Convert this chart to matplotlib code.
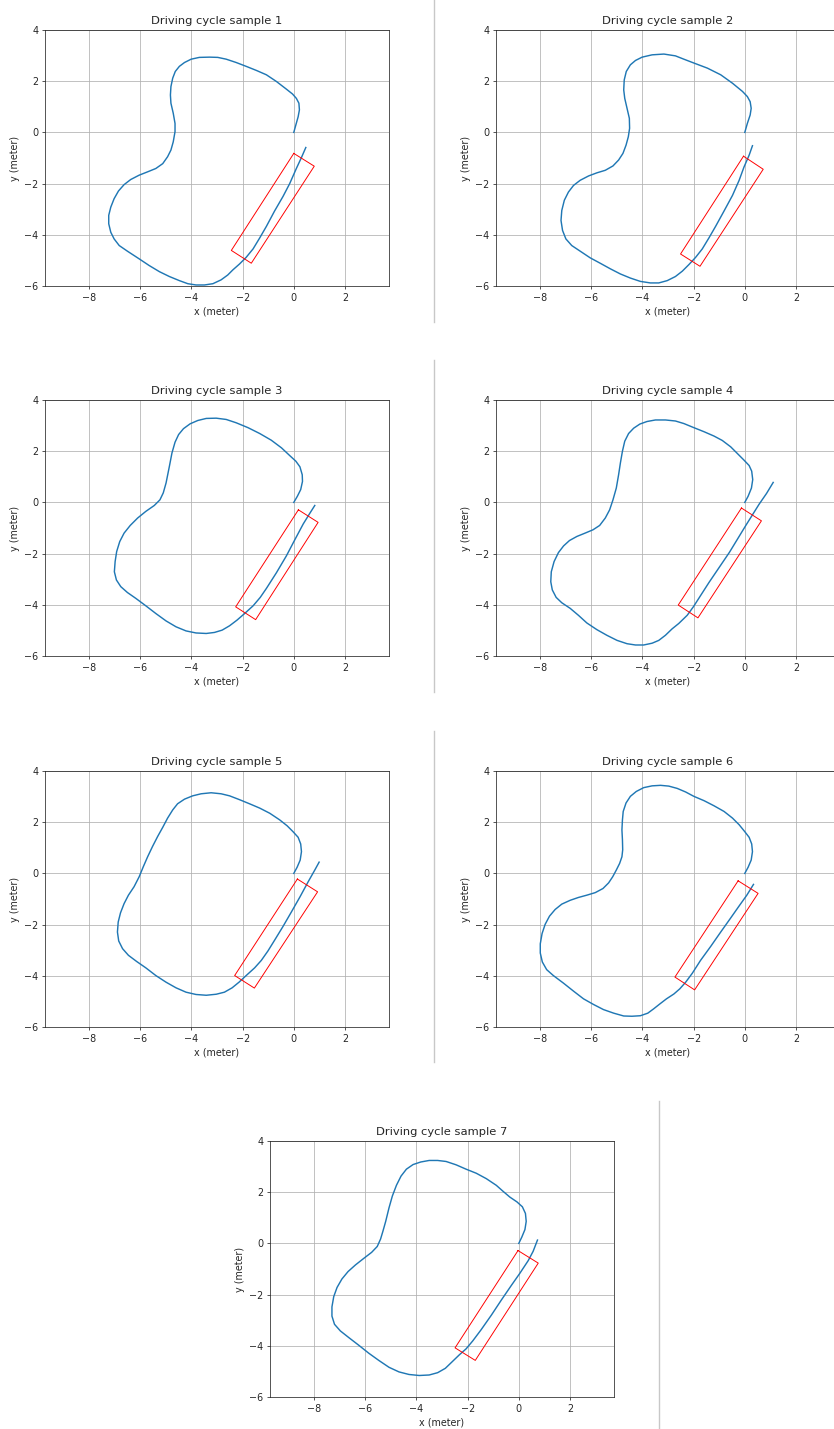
import matplotlib
matplotlib.use('Agg')
import matplotlib.pyplot as plt
from matplotlib.lines import Line2D

FIG_W, FIG_H = 834, 1429

# path points (x, y) in meters
PATH_1 = [(0, 0), (0.08, 0.29), (0.17, 0.61), (0.22, 0.88), (0.2, 1.14), (0.1, 1.33), (-0.05, 1.5),
          (-0.29, 1.69), (-0.68, 1.99), (-1.07, 2.25), (-1.46, 2.42), (-1.86, 2.58), (-2.25, 2.73),
          (-2.64, 2.86), (-2.97, 2.93), (-3.29, 2.94), (-3.69, 2.93), (-4.01, 2.86), (-4.27, 2.73),
          (-4.47, 2.58), (-4.63, 2.38), (-4.73, 2.12), (-4.8, 1.79), (-4.82, 1.46), (-4.8, 1.14),
          (-4.71, 0.75), (-4.64, 0.35), (-4.64, 0.03), (-4.71, -0.37), (-4.8, -0.69), (-4.93, -0.95),
          (-5.12, -1.22), (-5.39, -1.41), (-5.71, -1.54), (-6.04, -1.67), (-6.37, -1.84), (-6.63, -2.04),
          (-6.85, -2.29), (-7.02, -2.59), (-7.15, -2.92), (-7.23, -3.24), (-7.23, -3.57), (-7.15, -3.9),
          (-7.02, -4.16), (-6.82, -4.42), (-6.5, -4.64), (-6.04, -4.94), (-5.65, -5.2), (-5.25, -5.44),
          (-4.86, -5.63), (-4.47, -5.79), (-4.14, -5.91), (-3.82, -5.96), (-3.49, -5.96), (-3.16, -5.91),
          (-2.84, -5.76), (-2.58, -5.57), (-2.38, -5.37), (-2.12, -5.14), (-1.86, -4.88), (-1.59, -4.55),
          (-1.33, -4.12), (-1.07, -3.67), (-0.75, -3.07), (-0.42, -2.5), (-0.16, -2.0), (0.1, -1.41),
          (0.3, -0.98), (0.47, -0.59)]
PATH_2 = [(0, 0), (0.1, 0.35), (0.21, 0.68), (0.25, 0.94), (0.21, 1.2), (0.1, 1.4), (-0.09, 1.6),
          (-0.48, 1.92), (-0.94, 2.25), (-1.46, 2.51), (-1.99, 2.71), (-2.38, 2.86), (-2.71, 2.99),
          (-3.16, 3.06), (-3.62, 3.03), (-4.01, 2.94), (-4.27, 2.81), (-4.47, 2.64), (-4.63, 2.38),
          (-4.71, 2.05), (-4.73, 1.66), (-4.69, 1.33), (-4.6, 0.94), (-4.51, 0.55), (-4.5, 0.16),
          (-4.55, -0.17), (-4.64, -0.5), (-4.76, -0.82), (-4.93, -1.08), (-5.15, -1.31), (-5.45, -1.48),
          (-5.78, -1.58), (-6.1, -1.7), (-6.43, -1.87), (-6.69, -2.07), (-6.89, -2.33), (-7.05, -2.65),
          (-7.15, -3.05), (-7.18, -3.44), (-7.12, -3.83), (-6.99, -4.16), (-6.76, -4.42), (-6.43, -4.64),
          (-6.04, -4.9), (-5.65, -5.11), (-5.25, -5.33), (-4.86, -5.53), (-4.47, -5.69), (-4.08, -5.82),
          (-3.69, -5.88), (-3.36, -5.88), (-3.03, -5.79), (-2.71, -5.63), (-2.44, -5.42), (-2.18, -5.16),
          (-1.92, -4.88), (-1.66, -4.55), (-1.4, -4.12), (-1.14, -3.67), (-0.81, -3.07), (-0.48, -2.46),
          (-0.22, -1.87), (-0.03, -1.35), (0.17, -0.89), (0.3, -0.52)]
PATH_3 = [(0, 0), (0.14, 0.24), (0.27, 0.5), (0.34, 0.82), (0.33, 1.08), (0.24, 1.39), (0.08, 1.61),
          (-0.16, 1.83), (-0.48, 2.13), (-0.88, 2.43), (-1.33, 2.69), (-1.79, 2.92), (-2.25, 3.11),
          (-2.64, 3.24), (-3.03, 3.29), (-3.42, 3.28), (-3.75, 3.2), (-4.05, 3.07), (-4.31, 2.88),
          (-4.5, 2.65), (-4.64, 2.35), (-4.76, 1.93), (-4.86, 1.41), (-4.99, 0.76), (-5.1, 0.37),
          (-5.23, 0.1), (-5.45, -0.12), (-5.78, -0.35), (-6.1, -0.61), (-6.39, -0.9), (-6.63, -1.2),
          (-6.8, -1.53), (-6.92, -1.92), (-6.98, -2.31), (-7.01, -2.71), (-6.93, -3.03), (-6.76, -3.29),
          (-6.5, -3.52), (-6.17, -3.75), (-5.78, -4.04), (-5.39, -4.34), (-4.99, -4.63), (-4.6, -4.86),
          (-4.21, -5.02), (-3.82, -5.1), (-3.42, -5.12), (-3.1, -5.08), (-2.8, -4.99), (-2.51, -4.82),
          (-2.22, -4.6), (-1.92, -4.34), (-1.59, -4.04), (-1.31, -3.71), (-1.07, -3.36), (-0.68, -2.75),
          (-0.29, -2.09), (0.04, -1.46), (0.37, -0.84), (0.63, -0.42), (0.82, -0.12)]
PATH_4 = [(0, 0), (0.13, 0.24), (0.26, 0.56), (0.31, 0.89), (0.27, 1.22), (0.17, 1.44), (-0.03, 1.65),
          (-0.29, 1.91), (-0.55, 2.17), (-0.88, 2.42), (-1.2, 2.59), (-1.59, 2.76), (-1.99, 2.92),
          (-2.38, 3.08), (-2.71, 3.18), (-3.1, 3.22), (-3.49, 3.22), (-3.82, 3.16), (-4.1, 3.06),
          (-4.34, 2.9), (-4.54, 2.69), (-4.69, 2.39), (-4.78, 2.0), (-4.86, 1.54), (-4.93, 1.08),
          (-5.02, 0.56), (-5.15, 0.1), (-5.28, -0.29), (-5.45, -0.61), (-5.67, -0.9), (-5.93, -1.07),
          (-6.24, -1.2), (-6.56, -1.33), (-6.85, -1.49), (-7.08, -1.7), (-7.28, -1.96), (-7.45, -2.31),
          (-7.56, -2.71), (-7.58, -3.1), (-7.52, -3.42), (-7.37, -3.71), (-7.15, -3.92), (-6.82, -4.14),
          (-6.5, -4.41), (-6.17, -4.71), (-5.78, -4.97), (-5.39, -5.19), (-4.99, -5.39), (-4.6, -5.52),
          (-4.27, -5.57), (-3.95, -5.57), (-3.62, -5.5), (-3.36, -5.39), (-3.1, -5.19), (-2.84, -4.94),
          (-2.58, -4.73), (-2.25, -4.41), (-2.01, -4.08), (-1.4, -3.13), (-0.6, -1.95), (0.04, -0.9),
          (0.56, -0.07), (0.85, 0.35), (1.11, 0.78)]
PATH_5 = [(0, 0), (0.13, 0.24), (0.25, 0.52), (0.3, 0.85), (0.27, 1.15), (0.17, 1.41), (-0.03, 1.63),
          (-0.26, 1.86), (-0.55, 2.09), (-0.94, 2.35), (-1.33, 2.55), (-1.73, 2.72), (-2.12, 2.88),
          (-2.51, 3.03), (-2.84, 3.11), (-3.23, 3.15), (-3.62, 3.11), (-3.95, 3.03), (-4.27, 2.9),
          (-4.54, 2.72), (-4.73, 2.48), (-4.93, 2.16), (-5.12, 1.8), (-5.32, 1.44), (-5.52, 1.05),
          (-5.71, 0.65), (-5.88, 0.26), (-6.04, -0.13), (-6.24, -0.52), (-6.46, -0.85), (-6.63, -1.18),
          (-6.77, -1.54), (-6.86, -1.9), (-6.89, -2.29), (-6.84, -2.64), (-6.69, -2.94), (-6.46, -3.2),
          (-6.14, -3.44), (-5.78, -3.69), (-5.39, -3.99), (-4.99, -4.25), (-4.6, -4.47), (-4.21, -4.64),
          (-3.82, -4.73), (-3.42, -4.76), (-3.03, -4.72), (-2.71, -4.64), (-2.41, -4.47), (-2.14, -4.25),
          (-1.86, -3.99), (-1.53, -3.69), (-1.27, -3.4), (-1.01, -3.03), (-0.75, -2.61), (-0.42, -2.07),
          (-0.09, -1.5), (0.24, -0.92), (0.56, -0.33), (0.82, 0.13), (0.99, 0.44)]
PATH_6 = [(0, 0), (0.13, 0.24), (0.25, 0.52), (0.3, 0.85), (0.27, 1.15), (0.17, 1.41), (0, 1.63),
          (-0.22, 1.9), (-0.48, 2.16), (-0.81, 2.42), (-1.2, 2.64), (-1.59, 2.84), (-1.99, 3.01),
          (-2.31, 3.18), (-2.64, 3.32), (-2.97, 3.41), (-3.29, 3.44), (-3.62, 3.42), (-3.95, 3.35),
          (-4.24, 3.2), (-4.47, 3.01), (-4.64, 2.75), (-4.75, 2.42), (-4.78, 2.09), (-4.8, 1.7),
          (-4.78, 1.31), (-4.77, 0.92), (-4.8, 0.65), (-4.89, 0.39), (-5.02, 0.13), (-5.16, -0.13),
          (-5.32, -0.37), (-5.54, -0.59), (-5.84, -0.75), (-6.17, -0.85), (-6.5, -0.94), (-6.82, -1.05),
          (-7.15, -1.2), (-7.41, -1.41), (-7.63, -1.67), (-7.8, -1.99), (-7.92, -2.35), (-7.99, -2.75),
          (-7.99, -3.11), (-7.91, -3.46), (-7.74, -3.76), (-7.48, -3.99), (-7.08, -4.29), (-6.69, -4.6),
          (-6.3, -4.9), (-5.91, -5.12), (-5.52, -5.32), (-5.12, -5.46), (-4.73, -5.57), (-4.41, -5.58),
          (-4.08, -5.56), (-3.79, -5.46), (-3.56, -5.29), (-3.32, -5.1), (-3.06, -4.9), (-2.77, -4.71),
          (-2.54, -4.51), (-2.31, -4.25), (-2.05, -3.9), (-1.73, -3.4), (-1.33, -2.85), (-0.94, -2.29),
          (-0.55, -1.74), (-0.22, -1.27), (0.08, -0.85), (0.34, -0.43)]
PATH_7 = [(0, 0), (0.12, 0.25), (0.24, 0.54), (0.29, 0.86), (0.26, 1.17), (0.14, 1.43), (-0.07, 1.62),
          (-0.35, 1.81), (-0.62, 2.04), (-0.88, 2.27), (-1.27, 2.53), (-1.66, 2.74), (-2.06, 2.9),
          (-2.45, 3.07), (-2.84, 3.2), (-3.17, 3.24), (-3.5, 3.24), (-3.83, 3.18), (-4.13, 3.08),
          (-4.39, 2.9), (-4.6, 2.63), (-4.78, 2.27), (-4.94, 1.85), (-5.07, 1.39), (-5.2, 0.86),
          (-5.31, 0.47), (-5.4, 0.17), (-5.53, -0.12), (-5.75, -0.35), (-6.05, -0.58), (-6.38, -0.84),
          (-6.67, -1.1), (-6.91, -1.39), (-7.1, -1.72), (-7.23, -2.08), (-7.3, -2.48), (-7.3, -2.84),
          (-7.2, -3.16), (-6.97, -3.42), (-6.64, -3.68), (-6.25, -3.98), (-5.86, -4.29), (-5.47, -4.57),
          (-5.07, -4.84), (-4.68, -5.02), (-4.29, -5.12), (-3.89, -5.16), (-3.5, -5.14), (-3.17, -5.05),
          (-2.87, -4.88), (-2.61, -4.63), (-2.32, -4.35), (-2.06, -4.12), (-1.8, -3.81), (-1.47, -3.37),
          (-1.07, -2.8), (-0.68, -2.21), (-0.29, -1.64), (0.04, -1.17), (0.37, -0.67), (0.56, -0.31),
          (0.73, 0.13)]

# vehicle footprint corners (x, y)
BOX_1 = [(0.0, -0.82), (0.8, -1.32), (-1.66, -5.11), (-2.44, -4.61)]
BOX_2 = [(-0.05, -0.93), (0.72, -1.44), (-1.75, -5.23), (-2.51, -4.75)]
BOX_3 = [(0.18, -0.29), (0.95, -0.78), (-1.49, -4.58), (-2.27, -4.08)]
BOX_4 = [(-0.13, -0.22), (0.65, -0.72), (-1.83, -4.51), (-2.6, -4.01)]
BOX_5 = [(0.14, -0.22), (0.93, -0.72), (-1.54, -4.48), (-2.31, -3.99)]
BOX_6 = [(-0.26, -0.29), (0.52, -0.78), (-1.96, -4.55), (-2.73, -4.05)]
BOX_7 = [(-0.03, -0.28), (0.76, -0.77), (-1.7, -4.57), (-2.49, -4.08)]

PATHS = [PATH_1, PATH_2, PATH_3, PATH_4, PATH_5, PATH_6, PATH_7]
BOXES = [BOX_1, BOX_2, BOX_3, BOX_4, BOX_5, BOX_6, BOX_7]
TITLES = [f"Driving cycle sample {i}" for i in range(1, 8)]
X_TICKS = [-8, -6, -4, -2, 0, 2]
Y_TICKS = [-6, -4, -2, 0, 2, 4]
X_LIM = (-9.72, 3.72)
Y_LIM = (-6, 4)

# layout in pixels: axes (left, top), separators (x, y_top, y_bottom)
AXES_POS = [(45, 30), (496, 30), (45, 400), (496, 400), (45, 771), (496, 771), (270, 1141)]
AX_W, AX_H = 344, 256
SEPARATORS = [(433.5, 0, 322), (433.5, 360, 692), (433.5, 731, 1062), (659, 1101, 1429)]
S = 0.69  # scale of the original panels


def draw_panel(fig, pos, path, box, title):
    left, top = pos
    ax = fig.add_axes([left / FIG_W, 1 - (top + AX_H) / FIG_H, AX_W / FIG_W, AX_H / FIG_H])
    xs = [p[0] for p in path]
    ys = [p[1] for p in path]
    ax.plot(xs, ys, color='#1f77b4', lw=1.5 * S, solid_joinstyle='round')
    bx = [p[0] for p in box] + [box[0][0]]
    by = [p[1] for p in box] + [box[0][1]]
    ax.plot(bx, by, color='red', lw=1.0 * S)
    ax.set_xlim(*X_LIM)
    ax.set_ylim(*Y_LIM)
    ax.set_xticks(X_TICKS)
    ax.set_yticks(Y_TICKS)
    ax.grid(True, color='#b0b0b0', lw=0.8 * S)
    ax.tick_params(labelsize=10 * S, length=3.5 * S, width=0.8 * S, pad=3.5 * S, colors='#262626')
    for sp in ax.spines.values():
        sp.set_linewidth(0.8 * S)
        sp.set_color('#262626')
    ax.set_title(title, fontsize=12 * S, pad=6 * S, color='#262626')
    ax.set_xlabel('x (meter)', fontsize=10 * S, labelpad=4 * S, color='#262626')
    ax.set_ylabel('y (meter)', fontsize=10 * S, labelpad=4 * S, color='#262626')
    return ax


def main():
    fig = plt.figure(figsize=(FIG_W / 100, FIG_H / 100), dpi=100)
    for pos, path, box, title in zip(AXES_POS, PATHS, BOXES, TITLES):
        draw_panel(fig, pos, path, box, title)

    for x, y0, y1 in SEPARATORS:
        fig.add_artist(Line2D([x / FIG_W, x / FIG_W], [1 - y0 / FIG_H, 1 - y1 / FIG_H],
                              transform=fig.transFigure, color='#c8c8c8', lw=1.0))

    fig.savefig('out.png', dpi=100)
    plt.close(fig)


if __name__ == "__main__":
    main()
